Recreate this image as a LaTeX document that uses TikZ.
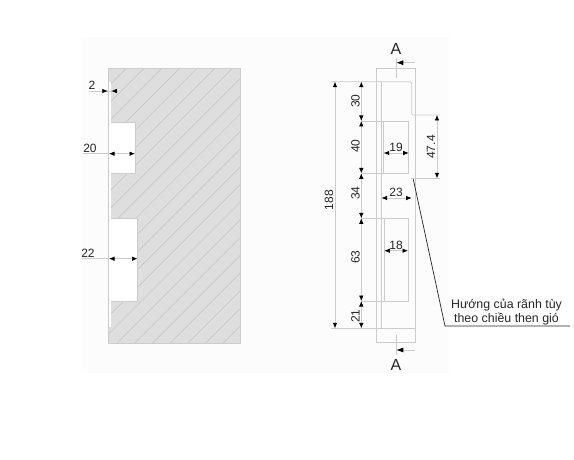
\documentclass[tikz,border=0pt]{standalone}
\usepackage{fontspec}
\setmainfont{Liberation Sans}
\usetikzlibrary{arrows.meta}
\definecolor{linegray}{HTML}{CCCCCC}
\definecolor{hatchgray}{HTML}{C6C6C6}
\definecolor{fillgray}{HTML}{DEDEDE}
\definecolor{textgray}{HTML}{262626}
\definecolor{panelgray}{HTML}{FCFCFC}
\tikzset{
  outline/.style={draw=linegray, line width=0.8pt},
  hatchline/.style={draw=hatchgray, line width=0.7pt},
  dimline/.style={draw=linegray, line width=0.7pt, {Latex[black,length=5.5pt,width=4.5pt]}-{Latex[black,length=5.5pt,width=4.5pt]}},
  extline/.style={draw=linegray, line width=0.7pt},
  sectarrow/.style={draw=linegray, line width=0.7pt, -{Latex[black,length=7pt,width=5pt]}},
  leader/.style={draw=black!85, line width=0.7pt},
  dimtext/.style={font=\fontsize{12}{14}\selectfont, text=textgray, inner sep=0pt},
  secttext/.style={font=\fontsize{16}{18}\selectfont, text=textgray, inner sep=0pt},
  notetext/.style={font=\fontsize{12.4}{14}\selectfont, text=textgray, inner sep=0pt, align=center}
}
\begin{document}
\begin{tikzpicture}[x=1pt, y=-1pt]
  \useasboundingbox (0,0) rectangle (574,460);
  \fill[panelgray] (81,37) rectangle (449,373);
  % section with hatching
  \fill[fillgray] (108,68.5) rectangle (240,343);
  \begin{scope}
    \clip (108,68.5) rectangle (240,343);
    \foreach \c in {0,...,30}
      \draw[hatchline] ({194.7+17.7*(\c-5)-40},40) -- ({194.7+17.7*(\c-5)-360},360);
  \end{scope}
  \draw[outline] (108,68.5) rectangle (240,343);
  \fill[white] (109.2,82) rectangle (111,327);
  \draw[outline, fill=white] (111,122) -- (135,122) -- (135,173) -- (111,173);
  \draw[outline, fill=white] (111,218) -- (137.5,218) -- (137.5,301) -- (111,301);
  % dimensions of the section
  \draw[extline] (89,91) -- (118,91);
  \draw[sectarrow, -{Latex[black,length=5.5pt,width=4.5pt]}] (101,91) -- (107.8,91);
  \draw[sectarrow, -{Latex[black,length=5.5pt,width=4.5pt]}] (118,91) -- (111.4,91);
  \draw[extline] (83,153.7) -- (109,153.7);
  \draw[dimline] (109,153.7) -- (135,153.7);
  \draw[extline] (82,258.7) -- (109,258.7);
  \draw[dimline] (109,258.7) -- (137.5,258.7);
  \node[dimtext] (w2) at (92,85.5) {2};
  \node[dimtext] (w20) at (90,148) {20};
  \node[dimtext] (w22) at (88,253) {22};
  % elevation
  \draw[outline] (376.7,68.5) rectangle (415.7,342.7);
  \draw[outline, rounded corners=2pt] (331,81.7) -- (411.7,81.7) -- (411.7,115) -- (440,115);
  \draw[outline] (381.3,81.7) -- (381.3,328.3);
  \draw[outline] (331,328.3) -- (415.7,328.3);
  \draw[extline] (411,178.3) -- (440,178.3);
  \draw[outline] (383.7,121) rectangle (408.7,173.3);
  \draw[outline] (384.3,218.3) rectangle (408,301);
  \foreach \y in {121,173.3,218.3,301}
    \draw[extline] (361.7,\y) -- (384,\y);
  % dimension chain
  \draw[dimline] (335,81.7) -- (335,328.3);
  \draw[dimline] (361.3,81.7) -- (361.3,121);
  \draw[dimline] (361.3,121) -- (361.3,173.3);
  \draw[dimline] (361.3,173.3) -- (361.3,218.3);
  \draw[dimline] (361.3,218.3) -- (361.3,301);
  \draw[dimline] (361.3,301) -- (361.3,328.3);
  \draw[dimline] (437,115) -- (437,178.3);
  \draw[dimline] (383.7,153) -- (408.7,153);
  \draw[dimline] (381.5,198) -- (411.7,198);
  \draw[dimline] (384.3,250.7) -- (408,250.7);
  \node[dimtext, rotate=90] (h188) at (329,200) {188};
  \node[dimtext, rotate=90] (h30) at (355.5,101) {30};
  \node[dimtext, rotate=90] (h40) at (355.5,146) {40};
  \node[dimtext, rotate=90] (h34) at (355.5,193) {34};
  \node[dimtext, rotate=90] (h63) at (355.5,257) {63};
  \node[dimtext, rotate=90] (h21) at (355.5,316) {21};
  \node[dimtext, rotate=90] (h47) at (431,147) {47.4};
  \node[dimtext] (w19) at (396,147) {19};
  \node[dimtext] (w23) at (396,192) {23};
  \node[dimtext] (w18) at (396,245) {18};
  % section marks
  \draw[extline] (396.3,58) -- (396.3,78);
  \draw[sectarrow] (415,62.7) -- (396.3,62.7);
  \draw[extline] (396.3,335) -- (396.3,355);
  \draw[sectarrow] (415,350) -- (396.3,350);
  \node[secttext] (sectTop) at (396,49) {A};
  \node[secttext] (sectBot) at (396,365) {A};
  % note
  \node[notetext] (note) at (506.5,312) {Hướng của rãnh tùy\\theo chiều then gió};
  \coordinate (noteStart) at (413.3,179.3);
  \coordinate (noteKnee) at (445,326);
  \coordinate (noteEnd) at (570,326);
  \draw[leader] (noteStart) -- (noteKnee) -- (noteEnd);
\end{tikzpicture}
\end{document}
